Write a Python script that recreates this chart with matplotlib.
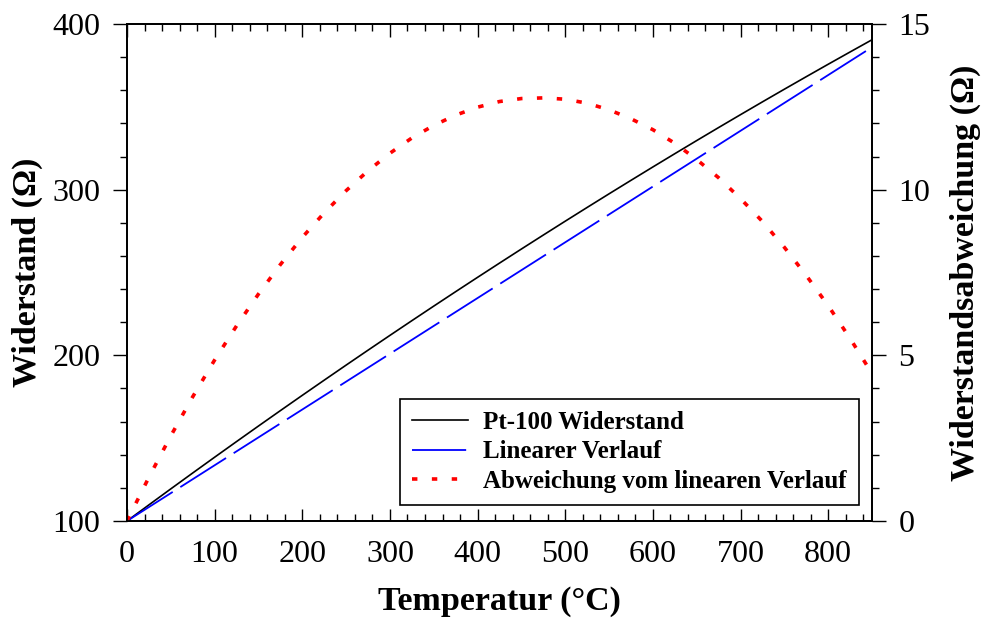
import matplotlib
matplotlib.use("Agg")
import matplotlib.pyplot as plt
from matplotlib.ticker import MultipleLocator

# --- Messwerte Pt-100 (alle 25 °C) ---
temperatur = [0, 25, 50, 75, 100, 125, 150, 175, 200, 225, 250, 275, 300,
              325, 350, 375, 400, 425, 450, 475, 500, 525, 550, 575, 600,
              625, 650, 675, 700, 725, 750, 775, 800, 825, 850]
widerstand = [100.00, 109.73, 119.40, 128.99, 138.51, 147.95, 157.33, 166.63,
              175.86, 185.01, 194.10, 203.11, 212.05, 220.92, 229.72, 238.44,
              247.09, 255.67, 264.18, 272.61, 280.98, 289.27, 297.49, 305.63,
              313.71, 321.71, 329.64, 337.50, 345.28, 353.00, 360.64, 368.20,
              375.70, 383.12, 390.48]
abweichung = [0.00, 1.32, 2.57, 3.75, 4.86, 5.89, 6.85, 7.74, 8.56, 9.30,
              9.97, 10.57, 11.10, 11.56, 11.94, 12.25, 12.49, 12.66, 12.75,
              12.77, 12.73, 12.61, 12.41, 12.14, 11.81, 11.40, 10.91, 10.36,
              9.73, 9.04, 8.26, 7.41, 6.50, 5.51, 4.45]

# linearer Verlauf: Anfangs- und Endpunkt
lin_t = [0, 850]
lin_r = [100.0, 386.0]

plt.rcParams['font.family'] = ['Liberation Serif', 'DejaVu Serif']

fig = plt.figure(figsize=(9.81, 6.18), dpi=100)
ax = fig.add_axes([127 / 981, 1 - 521 / 618, 745 / 981, 497 / 618])
ax2 = ax.twinx()

l1, = ax.plot(temperatur, widerstand, color='black', lw=1.2,
              label="Pt-100 Widerstand")
l2, = ax.plot(lin_t, lin_r, color='blue', lw=1.3, dashes=(30, 5),
              label="Linearer Verlauf")
l3, = ax2.plot(temperatur, abweichung, color='red', lw=2.6, dashes=(1.5, 4.0),
               label="Abweichung vom linearen Verlauf")

ax.set_xlim(0, 850)
ax.set_ylim(100, 400)
ax2.set_ylim(0, 15)

ax.xaxis.set_major_locator(MultipleLocator(100))
ax.xaxis.set_minor_locator(MultipleLocator(20))
ax.yaxis.set_major_locator(MultipleLocator(100))
ax.yaxis.set_minor_locator(MultipleLocator(20))
ax2.yaxis.set_major_locator(MultipleLocator(5))
ax2.yaxis.set_minor_locator(MultipleLocator(1))

ax.tick_params(axis='x', which='both', direction='in', top=True,
               labelsize=23, pad=14)
ax.tick_params(axis='x', which='major', length=9, width=1)
ax.tick_params(axis='x', which='minor', length=5, width=1)
ax.tick_params(axis='y', which='both', direction='out', labelsize=23, pad=9)
ax.tick_params(axis='y', which='major', length=10, width=1)
ax.tick_params(axis='y', which='minor', length=5, width=1)
ax2.tick_params(axis='y', which='both', direction='out', labelsize=23, pad=9)
ax2.tick_params(axis='y', which='major', length=10, width=1)
ax2.tick_params(axis='y', which='minor', length=5, width=1)

for a in (ax, ax2):
    for s in a.spines.values():
        s.set_linewidth(1.3)

ax.set_xlabel("Temperatur (°C)", fontsize=24.5, fontweight='bold', labelpad=12)
ax.set_ylabel("Widerstand (Ω)", fontsize=24.5, fontweight='bold', labelpad=7)
ax2.set_ylabel("Widerstandsabweichung (Ω)", fontsize=24.5, fontweight='bold',
               labelpad=14)

leg = ax2.legend(handles=[l1, l2, l3], loc='lower right',
                 bbox_to_anchor=(0.983, 0.032), borderaxespad=0,
                 fancybox=False, framealpha=1, edgecolor='black',
                 prop={'size': 18, 'weight': 'bold'},
                 handlelength=2.25, handletextpad=0.6, borderpad=0.5,
                 labelspacing=0.25)
leg.get_frame().set_linewidth(1.2)

fig.savefig("out.png", dpi=100)
